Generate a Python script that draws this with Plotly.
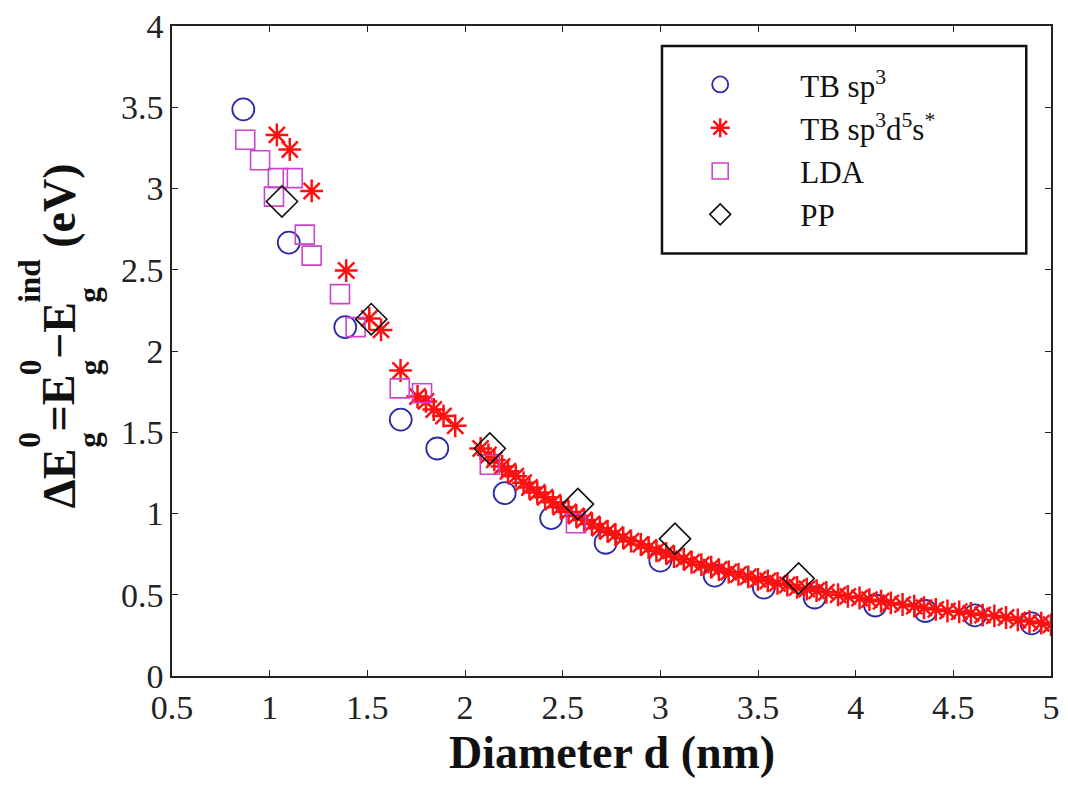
import plotly.graph_objects as go

# Tight-binding sp3 results
tb_sp3_d = [0.865, 1.098, 1.387, 1.671, 1.858, 2.203, 2.441, 2.72, 3.0, 3.278, 3.53,
            3.79, 4.10, 4.357, 4.61, 4.90]
tb_sp3_e = [3.487, 2.667, 2.147, 1.578, 1.40, 1.125, 0.972, 0.82, 0.71, 0.618, 0.544,
            0.483, 0.434, 0.40, 0.373, 0.324]

# Tight-binding sp3d5s* results
tb_sp3d5s_d = [1.037, 1.103, 1.215, 1.392, 1.51, 1.57, 1.67, 1.757, 1.80, 1.84, 1.89, 1.95,
               2.08, 2.12, 2.15, 2.19, 2.22, 2.26, 2.30, 2.33, 2.37, 2.41, 2.45, 2.49,
               2.53, 2.57, 2.61, 2.65, 2.69, 2.73, 2.77, 2.81, 2.85, 2.90, 2.94, 2.98,
               3.03, 3.07, 3.12, 3.16, 3.21, 3.26, 3.30, 3.35, 3.40, 3.45, 3.50, 3.55,
               3.60, 3.65, 3.70, 3.75, 3.80, 3.85, 3.91, 3.96, 4.02, 4.07, 4.13, 4.18,
               4.24, 4.30, 4.35, 4.41, 4.47, 4.53, 4.59, 4.65, 4.71, 4.77, 4.83, 4.89,
               4.95, 5.00]
tb_sp3d5s_e = [3.33, 3.24, 2.985, 2.495, 2.20, 2.13, 1.88, 1.72, 1.69, 1.64, 1.60, 1.54,
               1.40, 1.36, 1.33, 1.29, 1.26, 1.23, 1.19, 1.16, 1.13, 1.10, 1.07, 1.04,
               1.01, 0.985, 0.96, 0.935, 0.91, 0.89, 0.87, 0.85, 0.83, 0.81, 0.79, 0.77,
               0.755, 0.735, 0.72, 0.70, 0.685, 0.67, 0.655, 0.64, 0.625, 0.61, 0.595, 0.585,
               0.57, 0.56, 0.545, 0.535, 0.525, 0.515, 0.50, 0.49, 0.48, 0.47, 0.46, 0.45,
               0.44, 0.43, 0.42, 0.41, 0.40, 0.395, 0.385, 0.375, 0.37, 0.36, 0.345, 0.335,
               0.325, 0.315]

# LDA results
lda_d = [0.875, 0.951, 1.022, 1.042, 1.118, 1.18, 1.215, 1.36, 1.44, 1.666, 1.78, 2.127, 2.568]
lda_e = [3.30, 3.174, 2.95, 3.064, 3.064, 2.716, 2.587, 2.35, 2.147, 1.77, 1.74, 1.30, 0.94]

# Pseudopotential results
pp_d = [1.063, 1.52, 2.127, 2.578, 3.075, 3.708]
pp_e = [2.92, 2.196, 1.40, 1.058, 0.844, 0.60]

x_ticks = [0.5, 1, 1.5, 2, 2.5, 3, 3.5, 4, 4.5, 5]
x_ticktext = ["0.5", "1", "1.5", "2", "2.5", "3", "3.5", "4", "4.5", "5"]
y_ticks = [0, 0.5, 1, 1.5, 2, 2.5, 3, 3.5, 4]
y_ticktext = ["0", "0.5", "1", "1.5", "2", "2.5", "3", "3.5", "4"]

SERIF = "Liberation Serif"

fig = go.Figure()
fig.add_trace(go.Scatter(
    x=tb_sp3_d, y=tb_sp3_e, mode="markers", name="TB sp<sup>3</sup>",
    marker=dict(symbol="circle-open", size=22, color="#2b2ba6", line=dict(width=1.8, color="#2b2ba6"))))
fig.add_trace(go.Scatter(
    x=tb_sp3d5s_d, y=tb_sp3d5s_e, mode="markers", name="TB sp<sup>3</sup>d<sup>5</sup>s<sup>*</sup>",
    marker=dict(symbol="asterisk-open", size=19, color="#ff1010", line=dict(width=2.5, color="#ff1010"))))
fig.add_trace(go.Scatter(
    x=lda_d, y=lda_e, mode="markers", name="LDA",
    marker=dict(symbol="square-open", size=19, color="#cc44cc", line=dict(width=1.6, color="#cc44cc"))))
fig.add_trace(go.Scatter(
    x=pp_d, y=pp_e, mode="markers", name="PP",
    marker=dict(symbol="diamond-open", size=24, color="#111111", line=dict(width=1.6, color="#111111"))))

axis_common = dict(
    showline=True, linecolor="#222222", linewidth=1.5, mirror="allticks",
    ticks="inside", ticklen=6, tickwidth=1.2, tickcolor="#222222",
    showgrid=False, zeroline=False,
    tickfont=dict(family=SERIF, size=34, color="#222222"),
)
fig.update_xaxes(range=[0.5, 5], tickvals=x_ticks, ticktext=x_ticktext, **axis_common)
fig.update_yaxes(range=[0, 4], tickvals=y_ticks, ticktext=y_ticktext, **axis_common)

# Legend frame
fig.add_shape(type="rect", xref="paper", yref="paper",
              x0=(667 - 172) / 888, x1=(1035 - 172) / 888,
              y0=(676 - 251) / 654, y1=(676 - 42) / 654,
              line=dict(color="#111111", width=2.5), fillcolor="white", layer="below")

# x-axis title
fig.add_annotation(text="<b>Diameter d (nm)</b>", xref="paper", yref="paper",
                   x=0.5, y=0, yshift=-76, xanchor="center", yanchor="middle",
                   showarrow=False, font=dict(family=SERIF, size=46, color="#111111"))

# y-axis title built from pieces so that sub/superscripts stack
F = 46
S = 0.68 * F
W = {"Δ": 0.66, "E": 0.667, "=": 0.570, "−": 0.570, " ": 0.25, "(": 0.333, "e": 0.444,
     "V": 0.722, ")": 0.333, "0": 0.5, "g": 0.5, "i": 0.278, "n": 0.556, "d": 0.556}


def tw(txt, size):
    return sum(W[c] for c in txt) * size


pieces = [("ΔE", None), (("0", "g"), 1), ("=E", None), (("0", "g"), 1),
          ("−E", None), (("ind", "g"), 1), (" (eV)", None)]
lengths = []
for p, kind in pieces:
    if kind is None:
        lengths.append(tw(p, F))
    else:
        lengths.append(max(tw(p[0], S), tw(p[1], S)))
total = sum(lengths)
center_px = 676 - 340  # screen y of label centre
start = (676 - center_px) - total / 2  # distance above the x axis where text starts
main_x = -113
sup_x = -142
sub_x = -82
pos = start
for (p, kind), L in zip(pieces, lengths):
    mid = pos + L / 2
    if kind is None:
        fig.add_annotation(text="<b>%s</b>" % p.replace(" ", "&nbsp;"), xref="paper", yref="paper",
                           x=0, y=0, xshift=main_x, yshift=mid, textangle=-90,
                           xanchor="center", yanchor="middle", showarrow=False,
                           font=dict(family=SERIF, size=F, color="#111111"))
    else:
        fig.add_annotation(text="<b>%s</b>" % p[0], xref="paper", yref="paper",
                           x=0, y=0, xshift=sup_x, yshift=pos + tw(p[0], S) / 2, textangle=-90,
                           xanchor="center", yanchor="middle", showarrow=False,
                           font=dict(family=SERIF, size=S, color="#111111"))
        fig.add_annotation(text="<b>%s</b>" % p[1], xref="paper", yref="paper",
                           x=0, y=0, xshift=sub_x, yshift=pos + tw(p[1], S) / 2, textangle=-90,
                           xanchor="center", yanchor="middle", showarrow=False,
                           font=dict(family=SERIF, size=S, color="#111111"))
    pos += L

fig.update_layout(
    width=1068, height=790,
    margin=dict(l=172, r=8, t=22, b=114),
    paper_bgcolor="white", plot_bgcolor="white",
    showlegend=True,
    legend=dict(x=(645 - 172) / 888, y=(676 - 54) / 654, xanchor="left", yanchor="top",
                bgcolor="rgba(0,0,0,0)", borderwidth=0, itemwidth=150,
                font=dict(family=SERIF, size=31, color="#111111")),
)

fig.write_html("out.html")
